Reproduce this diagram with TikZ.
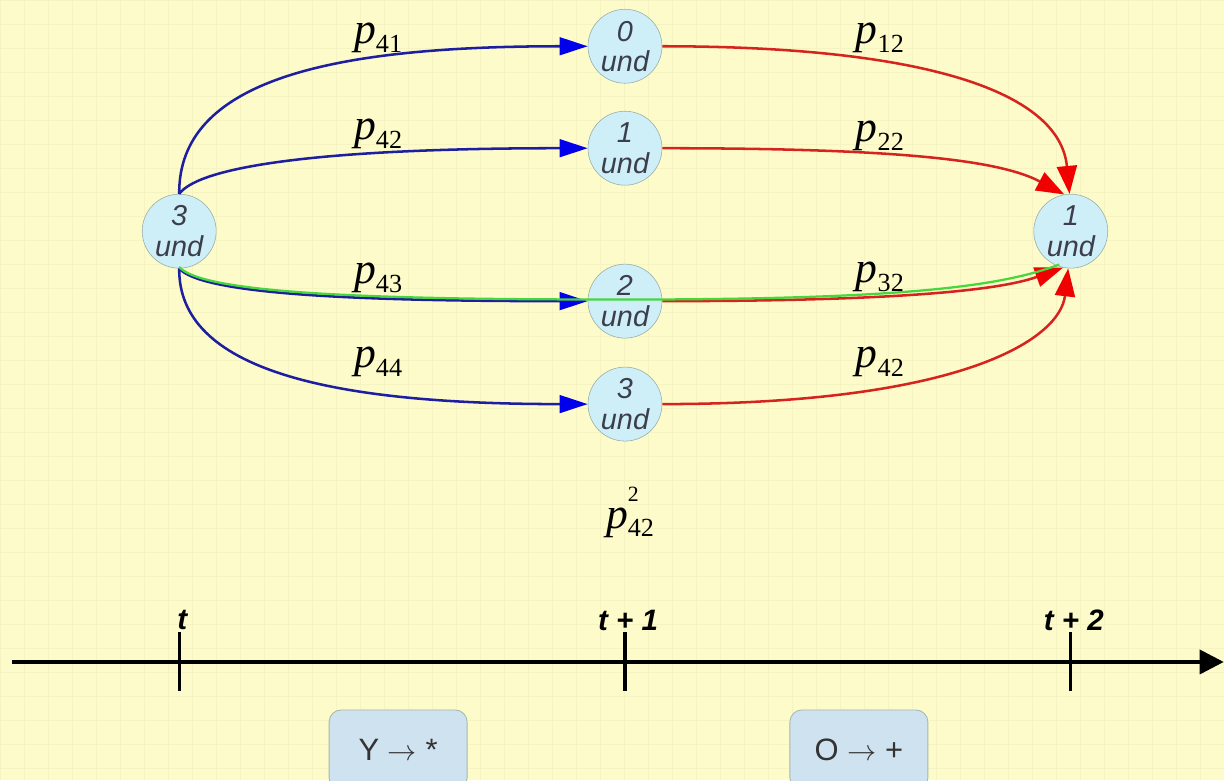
\documentclass[tikz,border=0pt]{standalone}
\usepackage{fontspec}
\setsansfont{Liberation Sans}
\newfontfamily\pfont{Liberation Serif}
\usepackage{tikz}
\usetikzlibrary{arrows.meta,positioning,calc}

\definecolor{bgyellow}{RGB}{253,251,202}
\definecolor{gridyellow}{RGB}{245,243,193}
\definecolor{statefill}{RGB}{206,238,248}
\definecolor{stateline}{RGB}{150,172,165}
\definecolor{statetext}{RGB}{60,62,75}
\definecolor{trblue}{RGB}{30,30,160}
\definecolor{tipblue}{RGB}{0,0,235}
\definecolor{trred}{RGB}{215,35,30}
\definecolor{tipred}{RGB}{240,0,0}
\definecolor{trgreen}{RGB}{70,215,60}
\definecolor{rulefill}{RGB}{207,226,240}
\definecolor{ruleline}{RGB}{165,185,170}

% probability label p_{ij}
\newcommand\plab[1]{\textit{p}\raisebox{-0.2em}{\scalebox{0.6}{#1}}}
\newcommand\plabsq[1]{\textit{p}\rlap{\raisebox{0.62em}{\scalebox{0.5}{2}}}\raisebox{-0.2em}{\scalebox{0.6}{#1}}}

\begin{document}
\begin{tikzpicture}[
  x=0.025cm,y=-0.025cm,
  state/.style={circle,draw=stateline,fill=statefill,
    minimum size=1.85cm,inner sep=0pt,align=center,text=statetext,
    font=\sffamily\itshape\fontsize{20.5}{21.5}\selectfont},
  bluearr/.style={draw=trblue,line width=1.8pt,
    -{Triangle[length=7mm,width=4.4mm,color=tipblue]}},
  redarr/.style={draw=trred,line width=1.8pt,
    -{Triangle[length=7mm,width=5mm,color=tipred]}},
  chosen/.style={draw=trgreen,line width=1.6pt},
  plabel/.style={font=\pfont\fontsize{31}{32}\selectfont,inner sep=0pt},
  ticklabel/.style={font=\sffamily\bfseries\itshape\fontsize{21}{22}\selectfont,inner sep=0pt},
  rulebox/.style={draw=ruleline,fill=rulefill,rounded corners=3mm,line width=0.6pt,
    minimum width=3.45cm,minimum height=2cm,
    font=\sffamily\fontsize{22}{23}\selectfont,text=black!80}
]
% background
\fill[bgyellow] (0,0) rectangle (1224,780);
\draw[gridyellow,line width=0.4pt,step=0.6cm] (0,0) grid (1224,780);
\useasboundingbox (0,0) rectangle (1224,780);

% states
\node[state] (s3) at (179,231) {3\\und};
\node[state] (m0) at (625,46) {0\\und};
\node[state] (m1) at (625,148) {1\\und};
\node[state] (m2) at (625,301) {2\\und};
\node[state] (m3) at (625,404) {3\\und};
\node[state] (e1) at (1071,231) {1\\und};

% first step
\draw[bluearr] (s3.north) .. controls (178,80) and (330,46) .. (m0.west);
\draw[bluearr] (s3.north) .. controls (200,165) and (330,148) .. (m1.west);
\draw[bluearr] (s3.south) .. controls (200,292) and (330,301) .. (m2.west);
\draw[bluearr] (s3.south) .. controls (178,370) and (330,404) .. (m3.west);

% second step
\draw[redarr] (m0.east) .. controls (920,46) and (1060,90) .. (e1.92);
\draw[redarr] (m1.east) .. controls (900,148) and (1000,160) .. (e1.100);
\draw[redarr] (m2.east) .. controls (900,301) and (1000,290) .. (e1.258);
\draw[redarr] (m3.east) .. controls (960,404) and (1060,340) .. (e1.266);

% the path 3 -> 2 -> 1
\draw[chosen] ([yshift=1]s3.south) .. controls (200,290) and (330,299) .. ([yshift=1.2]m2.west)
  -- ([yshift=1.2]m2.east) .. controls (900,298) and (1000,287) .. ([yshift=1.5]e1.252);

% labels
\node[plabel] (l41) at (378,38) {\plab{41}};
\node[plabel] (l42) at (378,134) {\plab{42}};
\node[plabel] (l43) at (378,278) {\plab{43}};
\node[plabel] (l44) at (378,362) {\plab{44}};
\node[plabel] (l12) at (880,38) {\plab{12}};
\node[plabel] (l22) at (880,136) {\plab{22}};
\node[plabel] (l32) at (880,277) {\plab{32}};
\node[plabel] (r42) at (880,362) {\plab{42}};
\node[plabel] (sq42) at (630,512) {\plabsq{42}};

% time axis
\coordinate (ax0) at (12,662);
\coordinate (ax1) at (1224,662);
\draw[line width=2.6pt,-{Triangle[length=6mm,width=6mm]}] (ax0) -- (ax1);
\foreach \tx/\tname/\ttext in {179/t0/{t},625/t1/{t + 1},1071/t2/{t + 2}}{
  \coordinate (\tname) at (\tx,662);
  \draw[line width=2.2pt] ([yshift=21]\tname) -- ([yshift=-21]\tname);
  \node[ticklabel] (\tname lab) at (\tx+3,620) {\ttext};
}

% transitions of the rule
\node[rulebox] (ruleY) at (398,750) {Y $\rightarrow$ *};
\node[rulebox] (ruleO) at (859,750) {O $\rightarrow$ +};
\end{tikzpicture}
\end{document}
